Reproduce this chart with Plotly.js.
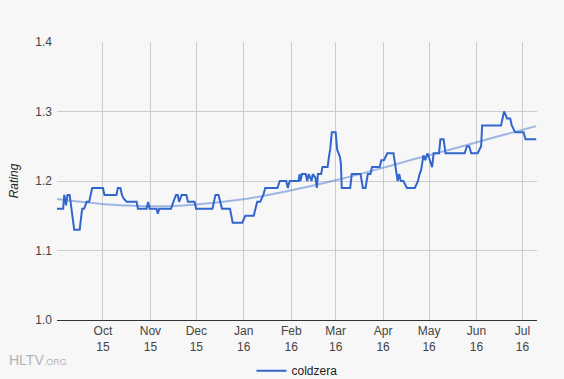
<!DOCTYPE html>
<html>
<head>
<meta charset="utf-8">
<script src="https://cdn.plot.ly/plotly-3.0.1.min.js"></script>
<style>html,body{margin:0;padding:0;background:#f7f7f7;}#chart{width:564px;height:379px;}</style>
</head>
<body>
<div id="chart"></div>
<script>
// Rating series (coldzera)
var dates = [
'2015-09-01','2015-09-05','2015-09-05 18:00','2015-09-06 22:00','2015-09-07 20:00','2015-09-09 06:00',
'2015-09-12 06:00','2015-09-15 20:00','2015-09-17 10:00','2015-09-18 16:00','2015-09-20 10:00','2015-09-22',
'2015-09-24','2015-10-01','2015-10-02','2015-10-09 20:00','2015-10-10 18:00','2015-10-12 10:00',
'2015-10-13 10:00','2015-10-14 12:00','2015-10-16 12:00','2015-10-23','2015-10-23 20:00','2015-10-29 12:00',
'2015-10-30 12:00','2015-10-31 12:00','2015-11-05','2015-11-05 20:00','2015-11-06 18:00','2015-11-14 12:00',
'2015-11-16','2015-11-17 18:00','2015-11-18 20:00','2015-11-19 18:00','2015-11-21 10:00','2015-11-24 12:00',
'2015-11-25 12:00','2015-11-29 20:00','2015-11-30 20:00','2015-12-11 12:00','2015-12-13 12:00','2015-12-15 12:00',
'2015-12-17 18:00','2015-12-23','2015-12-24 18:00','2015-12-31','2016-01-02','2016-01-07 12:00',
'2016-01-09 18:00','2016-01-11 18:00','2016-01-13 18:00','2016-01-15','2016-01-23','2016-01-24 12:00',
'2016-01-28 18:00','2016-01-29 18:00','2016-01-31','2016-02-05 18:00','2016-02-06 10:00','2016-02-07',
'2016-02-08','2016-02-10 10:00','2016-02-11 10:00','2016-02-12 10:00','2016-02-14 06:00','2016-02-15',
'2016-02-16 18:00','2016-02-17 18:00','2016-02-18 10:00','2016-02-20 12:00','2016-02-21 10:00','2016-02-24 18:00',
'2016-02-25 18:00','2016-02-26 10:00','2016-02-27 12:00','2016-03-01','2016-03-02','2016-03-03 18:00',
'2016-03-04 10:00','2016-03-05','2016-03-10 12:00','2016-03-11 12:00','2016-03-17 06:00','2016-03-18 18:00',
'2016-03-20 12:00','2016-03-22','2016-03-23 18:00','2016-03-24 18:00','2016-03-29 18:00','2016-03-30 20:00',
'2016-04-01 12:00','2016-04-03 18:00','2016-04-07 18:00','2016-04-09 12:00','2016-04-10 12:00','2016-04-11 12:00',
'2016-04-12 12:00','2016-04-14 06:00','2016-04-16 12:00','2016-04-21 18:00','2016-04-23 18:00','2016-04-24 20:00',
'2016-04-25 20:00','2016-04-27 08:00','2016-04-28 12:00','2016-04-30','2016-05-01 20:00','2016-05-03',
'2016-05-04','2016-05-07 12:00','2016-05-08 10:00','2016-05-10 12:00','2016-05-11 18:00','2016-05-24 06:00',
'2016-05-25 18:00','2016-05-27 06:00','2016-05-28 12:00','2016-06-01 18:00','2016-06-04','2016-06-04 16:00',
'2016-06-17','2016-06-19','2016-06-20','2016-06-21','2016-06-23','2016-06-24',
'2016-06-26 06:00','2016-07-01 18:00','2016-07-03','2016-07-10'
];
var ratings = [
1.16,1.16,1.18,1.165,1.18,1.18,
1.13,1.13,1.16,1.16,1.17,1.17,
1.19,1.19,1.18,1.18,1.19,1.19,
1.18,1.175,1.17,1.17,1.16,1.16,
1.17,1.16,1.16,1.153,1.16,1.16,
1.17,1.18,1.18,1.17,1.18,1.18,
1.17,1.17,1.16,1.16,1.18,1.18,
1.16,1.16,1.14,1.14,1.15,1.15,
1.17,1.17,1.18,1.19,1.19,1.20,
1.20,1.19,1.20,1.20,1.21,1.20,
1.21,1.21,1.20,1.21,1.20,1.21,
1.205,1.19,1.21,1.21,1.22,1.22,
1.237,1.245,1.27,1.27,1.245,1.235,
1.225,1.19,1.19,1.21,1.21,1.19,
1.19,1.21,1.21,1.22,1.22,1.23,
1.23,1.24,1.24,1.215,1.20,1.21,
1.20,1.20,1.19,1.19,1.20,1.21,
1.216,1.237,1.23,1.24,1.228,1.22,
1.24,1.24,1.26,1.26,1.24,1.24,
1.25,1.25,1.24,1.24,1.25,1.28,
1.28,1.30,1.295,1.29,1.29,1.28,
1.27,1.27,1.26,1.26
];

// Trend line
var trendDates = ['2015-09-01','2015-09-30','2015-10-24','2015-11-17','2015-12-14','2016-01-10','2016-02-04',
                  '2016-03-01','2016-03-27','2016-04-22','2016-05-18','2016-06-13','2016-07-10'];
var trendValues = [1.174,1.167,1.164,1.164,1.169,1.177,1.188,1.201,1.216,1.232,1.247,1.263,1.279];

var seriesName = 'coldzera';
var xTickVals = ['2015-10-01','2015-11-01','2015-12-01','2016-01-01','2016-02-01','2016-03-01',
                 '2016-04-01','2016-05-01','2016-06-01','2016-07-01'];
var xTickLabels = ['Oct<br>15','Nov<br>15','Dec<br>15','Jan<br>16','Feb<br>16','Mar<br>16',
                   'Apr<br>16','May<br>16','Jun<br>16','Jul<br>16'];
var yTicks = [1.0, 1.1, 1.2, 1.3, 1.4];
var yTickLabels = ['1.0', '1.1', '1.2', '1.3', '1.4'];

var traces = [
  {x: trendDates, y: trendValues, type: 'scatter', mode: 'lines', showlegend: false, hoverinfo: 'skip',
   line: {color: 'rgba(51,102,204,0.45)', width: 2, shape: 'spline', smoothing: 1.0}},
  {x: dates, y: ratings, type: 'scatter', mode: 'lines', name: seriesName,
   line: {color: '#3366cc', width: 2}}
];

var layout = {
  width: 564, height: 379,
  paper_bgcolor: '#f7f7f7', plot_bgcolor: '#f7f7f7',
  font: {family: 'Arial, "Liberation Sans", sans-serif', size: 12, color: '#444'},
  margin: {l: 57, r: 27, t: 42, b: 59, autoexpand: false},
  showlegend: true,
  legend: {orientation: 'h', x: 0.5, xanchor: 'center', y: -0.13, yanchor: 'top',
           font: {size: 12, color: '#222'}, bgcolor: 'rgba(0,0,0,0)'},
  xaxis: {
    type: 'date', range: ['2015-09-01', '2016-07-10 12:00'],
    tickvals: xTickVals, ticktext: xTickLabels,
    showgrid: true, gridcolor: '#cccccc', gridwidth: 1,
    showline: true, linecolor: '#333333', linewidth: 1,
    ticks: '', zeroline: false, fixedrange: true,
    tickfont: {size: 12, color: '#444'}
  },
  yaxis: {
    range: [1.0, 1.4], tickvals: yTicks, ticktext: yTickLabels,
    showgrid: true, gridcolor: '#cccccc', gridwidth: 1, zeroline: false,
    ticks: '', ticklabelstandoff: 4, showline: false,
    tickfont: {size: 12, color: '#444'},
    title: {text: '<i>Rating</i>', font: {size: 12, color: '#222'}, standoff: 14}
  },
  annotations: [
    {xref: 'paper', yref: 'paper', x: -0.105, y: -0.145, xanchor: 'left', yanchor: 'middle', showarrow: false,
     text: 'HLTV<span style="font-size:9px">.ORG</span>', font: {size: 14, color: '#b0b4b8'}}
  ]
};

Plotly.newPlot('chart', traces, layout, {displayModeBar: false, staticPlot: true});
</script>
</body>
</html>
